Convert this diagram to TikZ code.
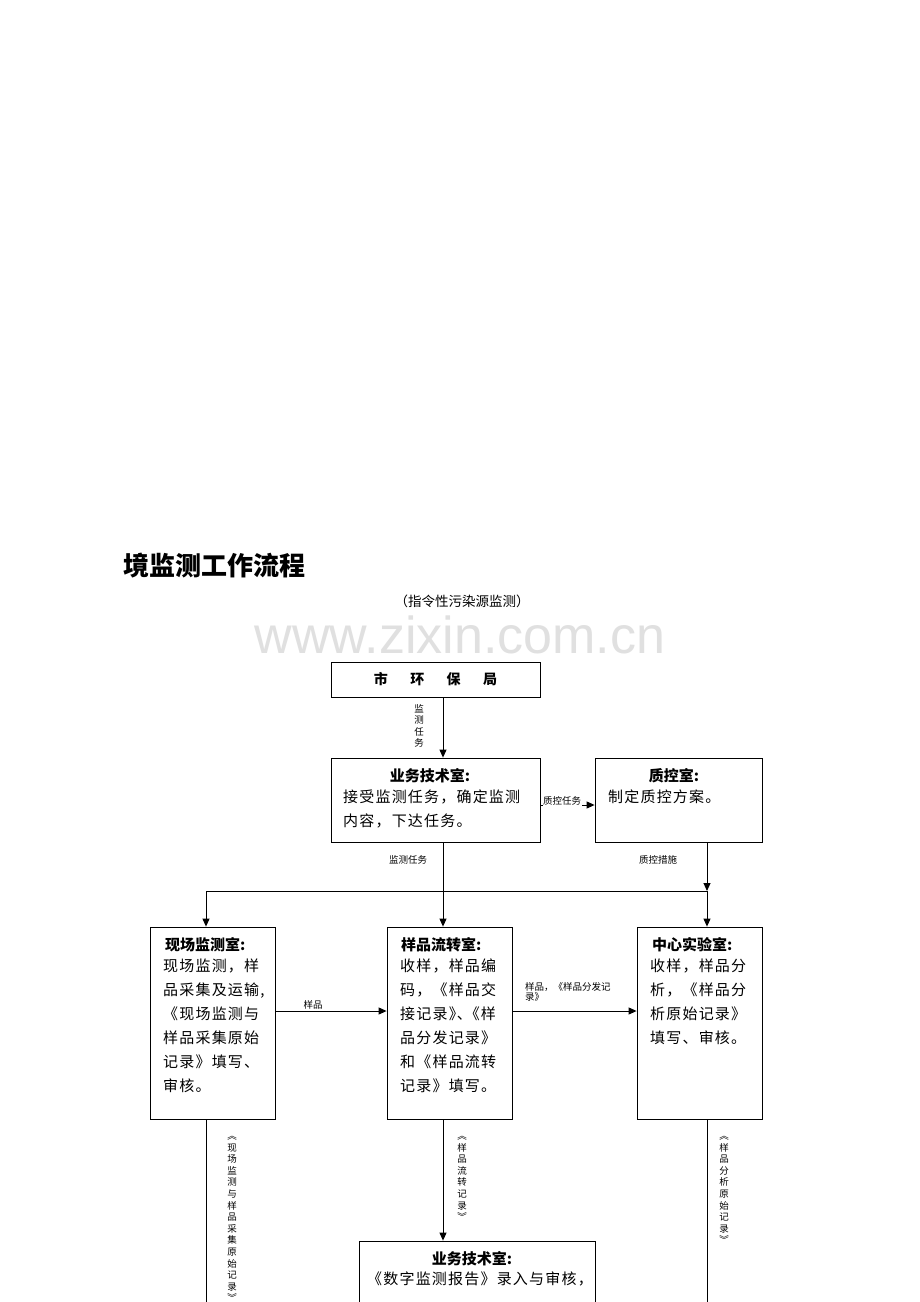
\documentclass[tikz,border=0pt]{standalone}
\usepackage{fontspec}
\setmainfont{Noto Sans CJK SC}
\newfontfamily\wm{Liberation Sans}
\usetikzlibrary{arrows.meta}
\begin{document}
\begin{tikzpicture}[x=1pt,y=-1pt,
  box/.style={draw,line width=0.8pt},
  arr/.style={line width=1pt,-{Triangle[length=8pt,width=7pt]}},
  ln/.style={line width=1pt},
  bt/.style={font=\fontsize{15}{24}\selectfont\addfontfeature{LetterSpace=8},anchor=north west,align=left,inner sep=0},
  hd/.style={font=\fontsize{15}{24}\bfseries\selectfont,inner sep=0},
  sm/.style={font=\fontsize{9.5}{11}\selectfont,inner sep=0},
  vt/.style={font=\fontsize{9.5}{11.6}\selectfont,align=center,inner sep=0,anchor=north}]
\useasboundingbox (0,0) rectangle (920,1302);
\clip (0,0) rectangle (920,1302);
\fill[white] (0,0) rectangle (920,1302);
\node[anchor=west,inner sep=0,font=\fontsize{26}{30}\bfseries\selectfont] (title) at (123,566) {境监测工作流程};
\node[inner sep=0,font=\fontsize{13.5}{16}\selectfont] (sub) at (462,601) {（指令性污染源监测）};
\node[inner sep=0,text=black!12,font=\wm\fontsize{52}{56}\selectfont] (wmk) at (460,635) {www.zixin.com.cn};
% boxes
\node[box,minimum width=209pt,minimum height=35pt,font=\fontsize{14}{16}\bfseries\selectfont] (hb) at (435.5,679.5) {市\hspace{1.6em}环\hspace{1.6em}保\hspace{1.6em}局};
\node[box,minimum width=209pt,minimum height=84pt] (yw) at (435.5,800) {};
\node[hd] (ywh) at (430,776) {业务技术室:};
\node[bt] (ywt) at (343,790) {接受监测任务，确定监测\\内容，下达任务。};
\node[box,minimum width=167pt,minimum height=84pt] (zk) at (678.5,800) {};
\node[hd] (zkh) at (674,776) {质控室:};
\node[bt] (zkt) at (608,790) {制定质控方案。};
\node[box,minimum width=125pt,minimum height=192pt] (xc) at (212.5,1023) {};
\node[hd,anchor=west] (xch) at (165,945) {现场监测室:};
\node[bt] (xct) at (163,959) {现场监测，样\\品采集及运输,\\《现场监测与\\样品采集原始\\记录》填写、\\审核。};
\node[box,minimum width=125pt,minimum height=192pt] (yp) at (449.5,1023) {};
\node[hd,anchor=west] (yph) at (401,945) {样品流转室:};
\node[bt] (ypt) at (400,959) {收样，样品编\\码，《样品交\\接记录》\hspace{-7pt}、\hspace{-7pt}《样\\品分发记录》\\和《样品流转\\记录》填写。};
\node[box,minimum width=125pt,minimum height=192pt] (zx) at (699.5,1023) {};
\node[hd,anchor=west] (zxh) at (652,945) {中心实验室:};
\node[bt] (zxt) at (650,959) {收样，样品分\\析，《样品分\\析原始记录》\\填写、审核。};
\node[box,minimum width=236pt,minimum height=120pt] (bt2) at (477,1301) {};
\node[hd] (bth) at (472,1259) {业务技术室:};
\node[bt,anchor=north] (btt) at (480,1272) {《数字监测报告》录入与审核，};
% connectors
\coordinate (b1) at (206,891);
\coordinate (b3) at (707,891);
\coordinate (bm) at (443,891);
\coordinate (r1) at (0,805);
\coordinate (r2) at (0,1011);
\draw[arr] (hb.south -| bm) -- (yw.north -| bm);
\node[vt] (l1) at (419,704) {监\\测\\任\\务};
\draw[arr] (yw.east |- r1) -- (zk.west |- r1);
\node[sm,fill=white,inner sep=0.5pt] (l2) at (562,801) {质控任务};
\draw[ln] (b1) -- (b3);
\draw[arr] (yw.south -| bm) -- (yp.north -| bm);
\node[sm] (l3) at (408,860) {监测任务};
\draw[arr] (zk.south -| b3) -- (b3);
\node[sm] (l4) at (658,860) {质控措施};
\draw[arr] (b1) -- (xc.north -| b1);
\draw[arr] (b3) -- (zx.north -| b3);
\draw[arr] (xc.east |- r2) -- (yp.west |- r2);
\node[sm] (l5) at (313,1005) {样品};
\draw[arr] (yp.east |- r2) -- (zx.west |- r2);
\node[sm,anchor=north west,align=left,font=\fontsize{9.5}{10}\selectfont] (l6) at (525,982) {样品，《样品分发记\\录》};
\coordinate (e1) at (206,1320);
\coordinate (e3) at (707,1320);
\draw[ln] (xc.south -| e1) -- (e1);
\draw[ln] (zx.south -| e3) -- (e3);
\draw[arr] (yp.south -| bm) -- (bt2.north -| bm);
\node[vt] (l7) at (232,1136) {︽\\现\\场\\监\\测\\与\\样\\品\\采\\集\\原\\始\\记\\录\\︾};
\node[vt] (l8) at (462,1136) {︽\\样\\品\\流\\转\\记\\录\\︾};
\node[vt] (l9) at (724,1136) {︽\\样\\品\\分\\析\\原\\始\\记\\录\\︾};
\end{tikzpicture}
\end{document}
